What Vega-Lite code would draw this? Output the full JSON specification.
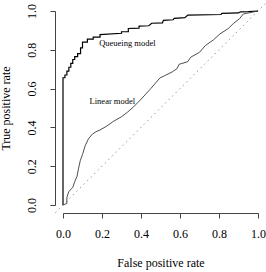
{
  "$schema": "https://vega.github.io/schema/vega-lite/v6.json",
  "width": 195,
  "height": 194,
  "autosize": {"type": "none"},
  "padding": {"left": 63, "top": 11, "right": 8, "bottom": 67},
  "background": "white",
  "config": {
    "view": {"stroke": null},
    "font": "Liberation Serif",
    "axis": {
      "grid": false,
      "domainColor": "#444",
      "tickColor": "#444",
      "tickSize": 5,
      "labelFont": "Liberation Serif",
      "titleFont": "Liberation Serif",
      "labelFontSize": 12,
      "titleFontSize": 12,
      "titleFontWeight": "normal",
      "labelColor": "#000",
      "titleColor": "#000",
      "offset": 8
    }
  },
  "datasets": {
    "curves": [
      {"model": "Queueing model", "fpr": 0.0, "tpr": 0.0, "o": 0},
      {"model": "Queueing model", "fpr": 0.0, "tpr": 0.656, "o": 1},
      {"model": "Queueing model", "fpr": 0.01, "tpr": 0.656, "o": 2},
      {"model": "Queueing model", "fpr": 0.01, "tpr": 0.67, "o": 3},
      {"model": "Queueing model", "fpr": 0.02, "tpr": 0.67, "o": 4},
      {"model": "Queueing model", "fpr": 0.02, "tpr": 0.69, "o": 5},
      {"model": "Queueing model", "fpr": 0.03, "tpr": 0.69, "o": 6},
      {"model": "Queueing model", "fpr": 0.03, "tpr": 0.71, "o": 7},
      {"model": "Queueing model", "fpr": 0.04, "tpr": 0.71, "o": 8},
      {"model": "Queueing model", "fpr": 0.04, "tpr": 0.73, "o": 9},
      {"model": "Queueing model", "fpr": 0.05, "tpr": 0.73, "o": 10},
      {"model": "Queueing model", "fpr": 0.05, "tpr": 0.75, "o": 11},
      {"model": "Queueing model", "fpr": 0.06, "tpr": 0.75, "o": 12},
      {"model": "Queueing model", "fpr": 0.06, "tpr": 0.765, "o": 13},
      {"model": "Queueing model", "fpr": 0.075, "tpr": 0.765, "o": 14},
      {"model": "Queueing model", "fpr": 0.075, "tpr": 0.78, "o": 15},
      {"model": "Queueing model", "fpr": 0.09, "tpr": 0.78, "o": 16},
      {"model": "Queueing model", "fpr": 0.09, "tpr": 0.81, "o": 17},
      {"model": "Queueing model", "fpr": 0.1, "tpr": 0.81, "o": 18},
      {"model": "Queueing model", "fpr": 0.1, "tpr": 0.84, "o": 19},
      {"model": "Queueing model", "fpr": 0.125, "tpr": 0.84, "o": 20},
      {"model": "Queueing model", "fpr": 0.125, "tpr": 0.855, "o": 21},
      {"model": "Queueing model", "fpr": 0.155, "tpr": 0.855, "o": 22},
      {"model": "Queueing model", "fpr": 0.155, "tpr": 0.865, "o": 23},
      {"model": "Queueing model", "fpr": 0.19, "tpr": 0.865, "o": 24},
      {"model": "Queueing model", "fpr": 0.19, "tpr": 0.878, "o": 25},
      {"model": "Queueing model", "fpr": 0.3, "tpr": 0.885, "o": 26},
      {"model": "Queueing model", "fpr": 0.3, "tpr": 0.893, "o": 27},
      {"model": "Queueing model", "fpr": 0.335, "tpr": 0.893, "o": 28},
      {"model": "Queueing model", "fpr": 0.335, "tpr": 0.91, "o": 29},
      {"model": "Queueing model", "fpr": 0.39, "tpr": 0.912, "o": 30},
      {"model": "Queueing model", "fpr": 0.39, "tpr": 0.922, "o": 31},
      {"model": "Queueing model", "fpr": 0.44, "tpr": 0.924, "o": 32},
      {"model": "Queueing model", "fpr": 0.455, "tpr": 0.937, "o": 33},
      {"model": "Queueing model", "fpr": 0.51, "tpr": 0.939, "o": 34},
      {"model": "Queueing model", "fpr": 0.515, "tpr": 0.952, "o": 35},
      {"model": "Queueing model", "fpr": 0.565, "tpr": 0.955, "o": 36},
      {"model": "Queueing model", "fpr": 0.57, "tpr": 0.962, "o": 37},
      {"model": "Queueing model", "fpr": 0.625, "tpr": 0.966, "o": 38},
      {"model": "Queueing model", "fpr": 0.64, "tpr": 0.979, "o": 39},
      {"model": "Queueing model", "fpr": 0.81, "tpr": 0.982, "o": 40},
      {"model": "Queueing model", "fpr": 0.815, "tpr": 0.988, "o": 41},
      {"model": "Queueing model", "fpr": 0.9, "tpr": 0.99, "o": 42},
      {"model": "Queueing model", "fpr": 0.91, "tpr": 0.996, "o": 43},
      {"model": "Queueing model", "fpr": 0.95, "tpr": 0.997, "o": 44},
      {"model": "Queueing model", "fpr": 1.0, "tpr": 1.0, "o": 45},
      {"model": "Linear model", "fpr": 0.0, "tpr": 0.0, "o": 0},
      {"model": "Linear model", "fpr": 0.02, "tpr": 0.008, "o": 1},
      {"model": "Linear model", "fpr": 0.02, "tpr": 0.04, "o": 2},
      {"model": "Linear model", "fpr": 0.03, "tpr": 0.07, "o": 3},
      {"model": "Linear model", "fpr": 0.05, "tpr": 0.09, "o": 4},
      {"model": "Linear model", "fpr": 0.06, "tpr": 0.12, "o": 5},
      {"model": "Linear model", "fpr": 0.072, "tpr": 0.148, "o": 6},
      {"model": "Linear model", "fpr": 0.08, "tpr": 0.19, "o": 7},
      {"model": "Linear model", "fpr": 0.089, "tpr": 0.23, "o": 8},
      {"model": "Linear model", "fpr": 0.1, "tpr": 0.26, "o": 9},
      {"model": "Linear model", "fpr": 0.114, "tpr": 0.306, "o": 10},
      {"model": "Linear model", "fpr": 0.13, "tpr": 0.34, "o": 11},
      {"model": "Linear model", "fpr": 0.15, "tpr": 0.365, "o": 12},
      {"model": "Linear model", "fpr": 0.17, "tpr": 0.378, "o": 13},
      {"model": "Linear model", "fpr": 0.19, "tpr": 0.387, "o": 14},
      {"model": "Linear model", "fpr": 0.22, "tpr": 0.404, "o": 15},
      {"model": "Linear model", "fpr": 0.26, "tpr": 0.432, "o": 16},
      {"model": "Linear model", "fpr": 0.3, "tpr": 0.455, "o": 17},
      {"model": "Linear model", "fpr": 0.33, "tpr": 0.478, "o": 18},
      {"model": "Linear model", "fpr": 0.36, "tpr": 0.504, "o": 19},
      {"model": "Linear model", "fpr": 0.4, "tpr": 0.545, "o": 20},
      {"model": "Linear model", "fpr": 0.45, "tpr": 0.6, "o": 21},
      {"model": "Linear model", "fpr": 0.497, "tpr": 0.655, "o": 22},
      {"model": "Linear model", "fpr": 0.52, "tpr": 0.666, "o": 23},
      {"model": "Linear model", "fpr": 0.56, "tpr": 0.686, "o": 24},
      {"model": "Linear model", "fpr": 0.585, "tpr": 0.703, "o": 25},
      {"model": "Linear model", "fpr": 0.595, "tpr": 0.725, "o": 26},
      {"model": "Linear model", "fpr": 0.64, "tpr": 0.739, "o": 27},
      {"model": "Linear model", "fpr": 0.655, "tpr": 0.762, "o": 28},
      {"model": "Linear model", "fpr": 0.7, "tpr": 0.787, "o": 29},
      {"model": "Linear model", "fpr": 0.73, "tpr": 0.822, "o": 30},
      {"model": "Linear model", "fpr": 0.77, "tpr": 0.85, "o": 31},
      {"model": "Linear model", "fpr": 0.805, "tpr": 0.882, "o": 32},
      {"model": "Linear model", "fpr": 0.848, "tpr": 0.91, "o": 33},
      {"model": "Linear model", "fpr": 0.873, "tpr": 0.935, "o": 34},
      {"model": "Linear model", "fpr": 0.905, "tpr": 0.96, "o": 35},
      {"model": "Linear model", "fpr": 0.925, "tpr": 0.985, "o": 36},
      {"model": "Linear model", "fpr": 0.95, "tpr": 0.99, "o": 37},
      {"model": "Linear model", "fpr": 1.0, "tpr": 1.0, "o": 38}
    ],
    "diag": [
      {"fpr": -0.04, "tpr": -0.04},
      {"fpr": 1.04, "tpr": 1.04}
    ],
    "labels": [
      {"label": "Queueing model", "fpr": 0.33, "tpr": 0.837},
      {"label": "Linear model", "fpr": 0.253, "tpr": 0.538}
    ]
  },
  "encoding": {
    "x": {"field": "fpr", "type": "quantitative", "scale": {"domain": [0, 1], "nice": false, "zero": false},
          "axis": {"title": "False positive rate", "tickCount": 5, "format": ".1f", "labelPadding": 10, "titlePadding": 18, "labelFlush": false, "labelOverlap": false}},
    "y": {"field": "tpr", "type": "quantitative", "scale": {"domain": [0, 1], "nice": false, "zero": false},
          "axis": {"title": "True positive rate", "tickCount": 5, "format": ".1f", "labelAngle": 270, "labelAlign": "center", "labelBaseline": "bottom", "labelPadding": 12, "titlePadding": 13, "labelFlush": false, "labelOverlap": false}}
  },
  "layer": [
    {
      "data": {"name": "diag"},
      "mark": {"type": "line", "color": "#9a9a9a", "strokeWidth": 1, "strokeDash": [1.5, 3.5], "clip": false}
    },
    {
      "data": {"name": "curves"},
      "mark": {"type": "line", "clip": false},
      "encoding": {
        "order": {"field": "o", "type": "quantitative"},
        "detail": {"field": "model"},
        "color": {"field": "model", "type": "nominal", "scale": {"domain": ["Queueing model", "Linear model"], "range": ["#000000", "#3a3a3a"]}, "legend": null},
        "strokeWidth": {"field": "model", "type": "nominal", "scale": {"domain": ["Queueing model", "Linear model"], "range": [1.2, 0.9]}, "legend": null}
      }
    },
    {
      "data": {"name": "labels"},
      "mark": {"type": "text", "font": "Liberation Serif", "fontSize": 8.5, "color": "#000"},
      "encoding": {
        "text": {"field": "label"}
      }
    }
  ]
}
